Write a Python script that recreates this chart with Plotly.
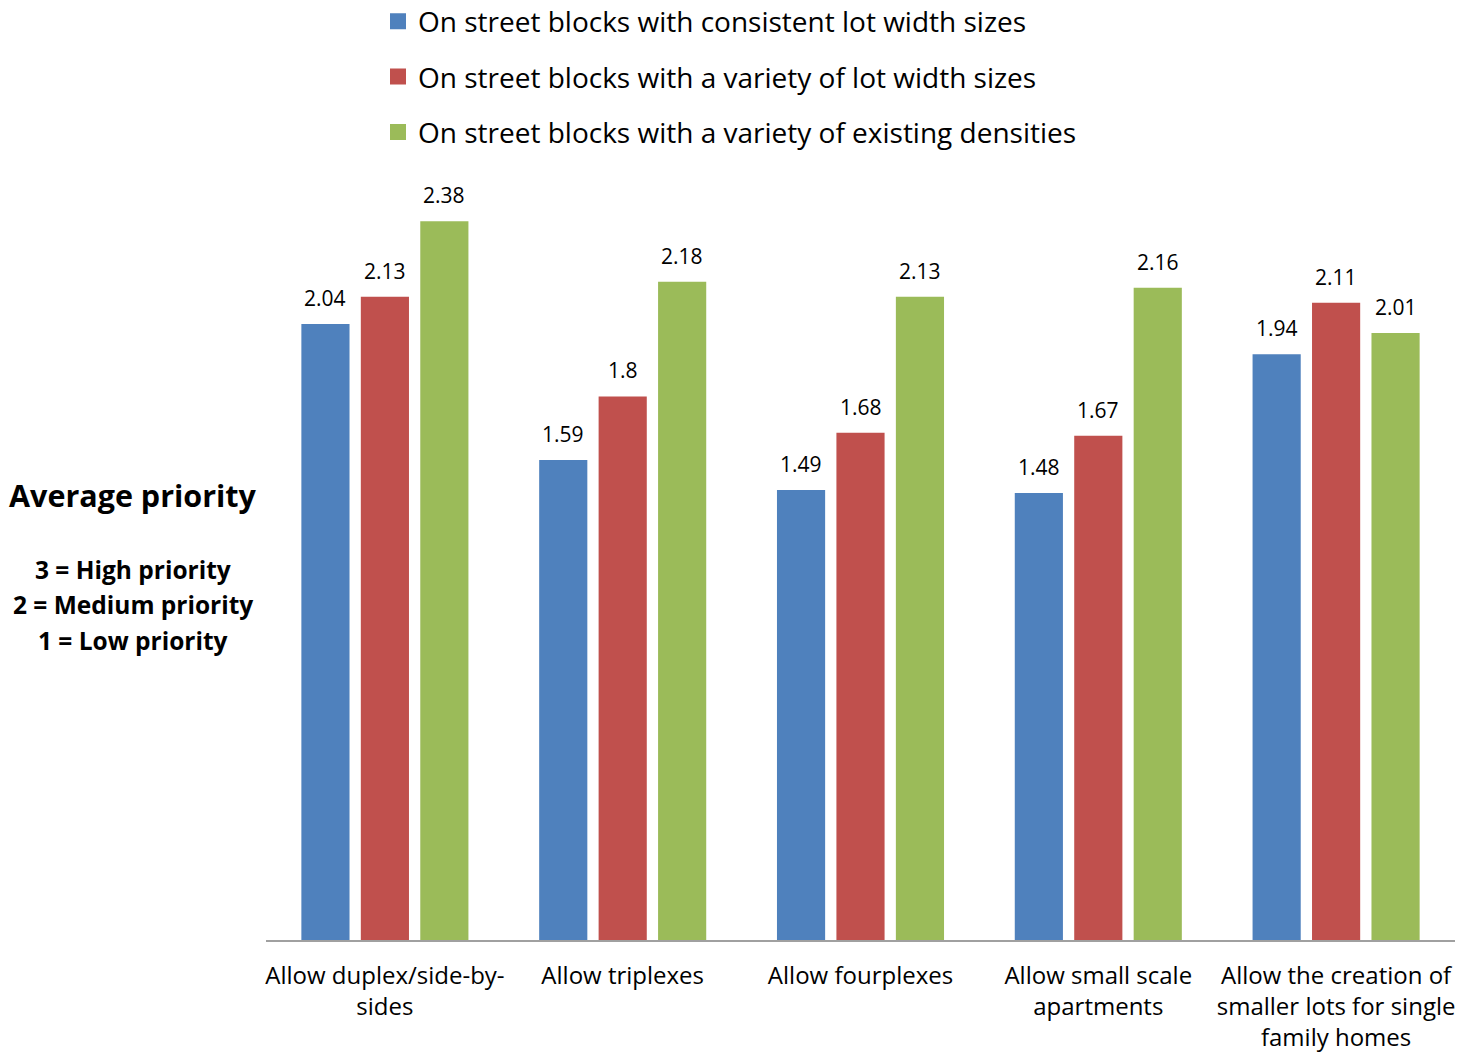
import plotly.graph_objects as go

categories = [
    "Allow duplex/side-by-<br>sides",
    "Allow triplexes",
    "Allow fourplexes",
    "Allow small scale<br>apartments",
    "Allow the creation of<br>smaller lots for single<br>family homes",
]
series_names = [
    "On street blocks with consistent lot width sizes",
    "On street blocks with a variety of lot width sizes",
    "On street blocks with a variety of existing densities",
]
consistent = [2.04, 1.59, 1.49, 1.48, 1.94]
variety_width = [2.13, 1.80, 1.68, 1.67, 2.11]
variety_density = [2.38, 2.18, 2.13, 2.16, 2.01]
label_texts = [
    ["2.04", "1.59", "1.49", "1.48", "1.94"],
    ["2.13", "1.8", "1.68", "1.67", "2.11"],
    ["2.38", "2.18", "2.13", "2.16", "2.01"],
]
colors = ["#4F81BD", "#C0504D", "#9BBB59"]
all_values = [consistent, variety_width, variety_density]

FONT = "Open Sans"
W, H = 1471, 1055
ML, MR, MT, MB = 266, 16, 170, 115
PW = W - ML - MR
PH = H - MT - MB

fig = go.Figure()
for name, vals, col in zip(series_names, all_values, colors):
    fig.add_trace(go.Bar(
        x=categories, y=vals, name=name, marker_color=col,
        marker_line_width=0, showlegend=False,
    ))
for i, (name, col) in enumerate(zip(series_names, colors)):
    fig.add_trace(go.Scatter(
        x=[None], y=[None], mode="markers", name=name,
        marker=dict(symbol="square", size=16, color=col),
        legendgroup=f"g{i}", showlegend=True,
    ))

annotations = []
slot = PW / len(categories) * 0.75 / 3
for s, (vals, texts) in enumerate(zip(all_values, label_texts)):
    for c, (v, t) in enumerate(zip(vals, texts)):
        annotations.append(dict(
            x=categories[c], y=v, xref="x", yref="y", text=t,
            showarrow=False, xshift=(s - 1) * slot, yshift=26,
            yanchor="middle", font=dict(family=FONT, size=21, color="#000"),
        ))

def px_x(px):
    return (px - ML) / PW

def px_y(py):
    return (H - MB - py) / PH

annotations.append(dict(
    x=px_x(133), y=px_y(495), xref="paper", yref="paper",
    text="<b>Average priority</b>", showarrow=False,
    xanchor="center", yanchor="middle",
    font=dict(family=FONT, size=30.5, color="#000"),
))
for txt, py in [("3 = High priority", 569), ("2 = Medium priority", 604), ("1 = Low priority", 640)]:
    annotations.append(dict(
        x=px_x(133), y=px_y(py), xref="paper", yref="paper",
        text=f"<b>{txt}</b>", showarrow=False,
        xanchor="center", yanchor="middle",
        font=dict(family=FONT, size=24.5, color="#000"),
    ))

fig.update_layout(
    width=W, height=H,
    margin=dict(l=ML, r=MR, t=MT, b=MB, autoexpand=False),
    paper_bgcolor="white", plot_bgcolor="white",
    barmode="group", bargap=0.25, bargroupgap=0.19,
    font=dict(family=FONT, color="#000"),
    legend=dict(
        xref="container", yref="container",
        x=378 / W, y=1.0 - 77 / H, xanchor="left", yanchor="middle",
        font=dict(family=FONT, size=28, color="#000"),
        tracegroupgap=16, itemsizing="trace",
        bgcolor="rgba(0,0,0,0)",
    ),
    xaxis=dict(
        showline=True, linecolor="#A0A0A0", linewidth=1.5,
        showgrid=False, ticks="", zeroline=False,
        tickangle=0, automargin=False,
        tickfont=dict(family=FONT, size=24, color="#000"),
        ticklabelstandoff=13,
    ),
    yaxis=dict(visible=False, range=[0, 2.55], showgrid=False, zeroline=False,
               automargin=False),
    annotations=annotations,
)

fig.write_html("out.html")
